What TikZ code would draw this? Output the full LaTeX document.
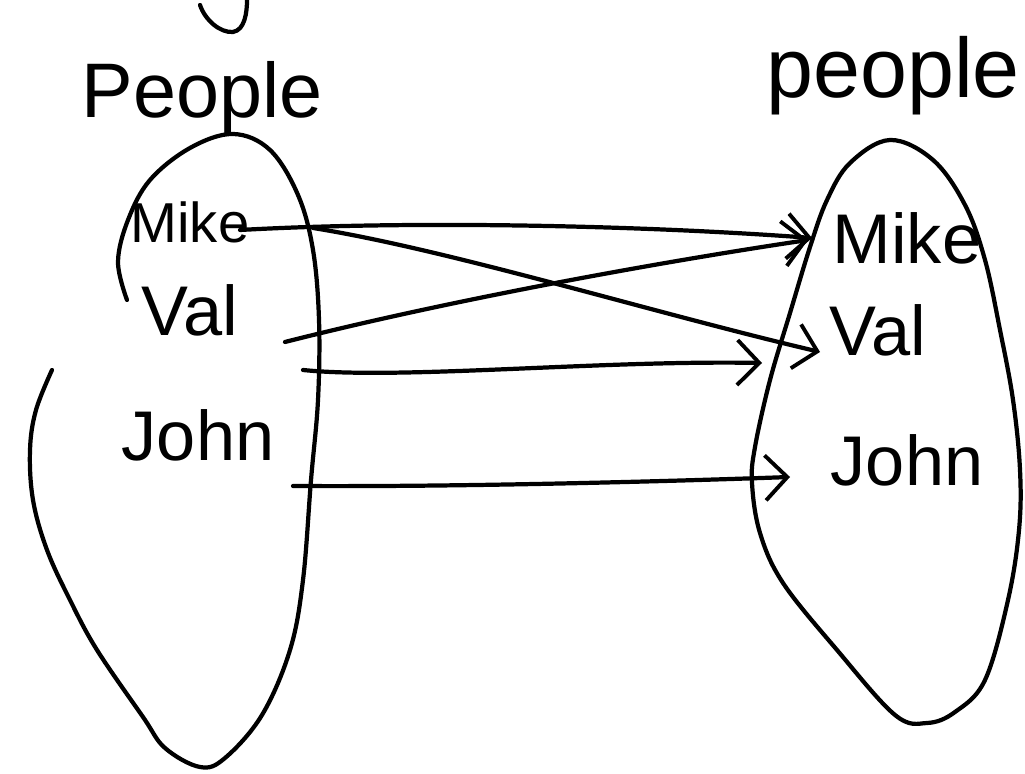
\documentclass[tikz,border=0pt]{standalone}
\usepackage{fontspec}
\setmainfont{Liberation Sans}
\usetikzlibrary{arrows.meta}
\begin{document}
\begin{tikzpicture}[x=0.01cm,y=-0.01cm,
  ink/.style={line width=1.2pt,line cap=round,line join=round},
  conn/.style={ink,-{Straight Barb[length=2.2mm,width=4.5mm,line width=1.1pt]}},
  hand/.style={inner sep=0pt,font=\fontsize{20}{24}\selectfont},
  title/.style={inner sep=0pt,font=\fontsize{22}{26}\selectfont}]
\useasboundingbox (0,0) rectangle (1025,774);
% fragment of text cut off at the top
\draw[ink] (200,5) .. controls (205,20) and (220,33) .. (233,32) .. controls (245,30) and (247,12) .. (247,0);
% titles
\node[title] (peopleL) at (202,98) {People};
\node[title,font=\fontsize{24}{28}\selectfont] (peopleR) at (893,76) {people};
% left blob (open outline)
\draw[ink] plot[smooth,tension=0.6] coordinates {(127,300) (118,262) (128,220) (150,180) (190,148) (233,134) (270,150) (298,195) (313,250) (319,320) (318,400) (311,480) (303,580) (290,650) (262,715) (225,758) (200,767) (165,748) (143,717) (97,650) (70,600) (47,550) (33,500) (30,450) (36,410) (52,370)};
% right blob
\draw[ink] plot[smooth cycle,tension=0.6] coordinates {(890,140) (933,160) (965,205) (985,260) (1000,330) (1013,400) (1020,470) (1019,530) (1008,600) (985,680) (955,712) (927,723) (895,715) (837,650) (783,583) (760,533) (752,483) (755,447) (770,380) (790,313) (810,247) (827,200) (850,163)};
% names
\node[hand,font=\fontsize{16}{19}\selectfont] (mikeL) at (190,222) {Mike};
\node[hand] (valL) at (190,310) {Val};
\node[hand] (johnL) at (198,435) {John};
\node[hand] (mikeR) at (907,238) {Mike};
\node[hand] (valR) at (878,330) {Val};
\node[hand] (johnR) at (907,460) {John};
% connector end points
\coordinate (a1s) at (240,230);
\coordinate (a1e) at (812,238);
\coordinate (a2s) at (313,228);
\coordinate (a2e) at (820,352);
\coordinate (a3s) at (285,342);
\coordinate (a3e) at (808,240);
\coordinate (a4s) at (303,370);
\coordinate (a4e) at (762,363);
\coordinate (a5s) at (293,486);
\coordinate (a5e) at (790,477);
% connectors
\draw[conn] (a1s) .. controls (420,220) and (650,226) .. (a1e);
\draw[conn] (a2s) .. controls (450,250) and (650,312) .. (a2e);
\draw[conn] (a3s) .. controls (450,300) and (660,262) .. (a3e);
\draw[conn] (a4s) .. controls (400,380) and (600,360) .. (a4e);
\draw[conn] (a5s) .. controls (450,487) and (650,482) .. (a5e);
\end{tikzpicture}
\end{document}
